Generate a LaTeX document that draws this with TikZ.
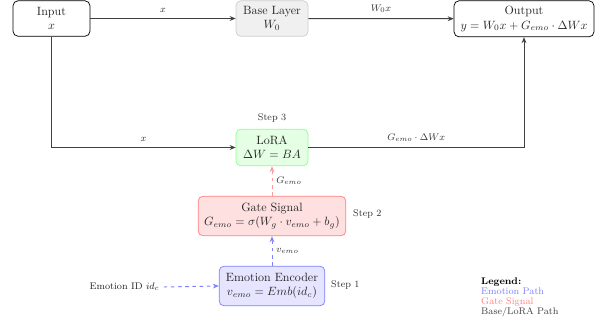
\documentclass[tikz,border=0pt]{standalone}
\usetikzlibrary{arrows.meta}
\begin{document}
\begin{tikzpicture}[x=0.8333pt,y=-0.8333pt,
  box/.style={draw, rounded corners=4pt, align=center, inner sep=1pt, line width=0.6pt, text=black!85},
  mainline/.style={draw=black!75, line width=0.8pt, -{Stealth[length=5pt,width=4pt]}},
  emoline/.style={draw=blue!50, line width=0.8pt, dashed, -{Stealth[length=5pt,width=4pt]}},
  gateline/.style={draw=red!40, line width=0.8pt, dashed, -{Stealth[length=5pt,width=4pt]}},
  elabel/.style={font=\footnotesize, text=black!80},
  steplabel/.style={font=\footnotesize, text=black!80}]
\useasboundingbox (0,0) rectangle (601,322);

\node[box, draw=black, fill=white, minimum width=64pt, minimum height=29.5pt] (input) at (51.5,18.5) {Input\\$x$};
\node[box, draw=gray!40, fill=gray!12, minimum width=60pt, minimum height=29.5pt] (base) at (272,18.5) {Base Layer\\$W_0$};
\node[box, draw=black, fill=white, minimum width=116.5pt, minimum height=30pt] (output) at (524,18.8) {Output\\$y = W_0x + G_{emo}\cdot\Delta Wx$};
\node[box, draw=green!45, fill=green!10, minimum width=60pt, minimum height=30.5pt] (lora) at (272,147.5) {LoRA\\$\Delta W = BA$};
\node[box, draw=red!50, fill=red!12, minimum width=123pt, minimum height=33pt] (gate) at (272,216) {Gate Signal\\$G_{emo} = \sigma(W_g \cdot v_{emo} + b_g)$};
\node[box, draw=blue!50, fill=blue!10, minimum width=88pt, minimum height=33pt] (enc) at (272,286) {Emotion Encoder\\$v_{emo} = Emb(id_c)$};

\node[font=\footnotesize, text=black!85] (eid) at (124.5,287) {Emotion ID $id_c$};

\node[steplabel] (s3) at (272,118) {Step 3};
\node[steplabel, anchor=west] (s2) at (349,214.5) {Step 2};
\node[steplabel, anchor=west] (s1) at (327,285.5) {Step 1};

\path[mainline] (input) -- node[elabel, above, yshift=1pt] {$x$} (base);
\path[mainline] (base) -- node[elabel, above, yshift=1pt] {$W_0x$} (output);
\path[mainline] (input.south) |- node[elabel, pos=0.75, above, yshift=1pt] {$x$} (lora.west);
\path[mainline] (lora.east) -| node[elabel, pos=0.25, above, yshift=1pt] {$G_{emo}\cdot\Delta Wx$} (output.south);
\path[gateline] (gate.north) -- node[elabel, right] {$G_{emo}$} (lora.south);
\path[emoline] (enc.north) -- node[elabel, right] {$v_{emo}$} (gate.south);
\path[emoline] (eid.east) -- (enc.west);

\node[font=\footnotesize\bfseries, anchor=base west, inner sep=0pt] (lg) at (481,284) {Legend:};
\node[font=\footnotesize, text=blue!50, anchor=base west, inner sep=0pt] (lg1) at (481,294) {Emotion Path};
\node[font=\footnotesize, text=red!50, anchor=base west, inner sep=0pt] (lg2) at (481,304) {Gate Signal};
\node[font=\footnotesize, text=black!75, anchor=base west, inner sep=0pt] (lg3) at (481,314) {Base/LoRA Path};
\end{tikzpicture}
\end{document}
